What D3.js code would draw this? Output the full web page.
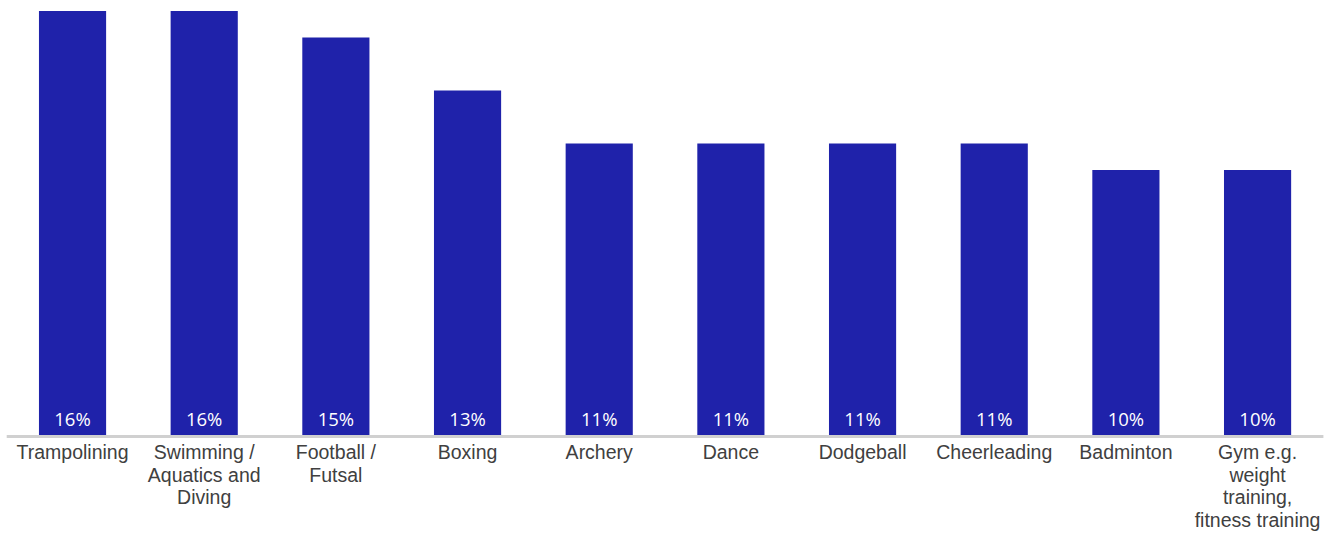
<!DOCTYPE html>
<html>
<head>
<meta charset="utf-8">
<script src="https://cdn.jsdelivr.net/npm/d3@7"></script>
<style>
  html, body { margin: 0; padding: 0; background: #ffffff; }
  svg { display: block; }
</style>
</head>
<body>
<svg id="chart" width="1332" height="535"></svg>
<script>
// Share of respondents by activity (line breaks mark where each category label wraps)
const categories = [
  "Trampolining",
  "Swimming /\nAquatics and\nDiving",
  "Football /\nFutsal",
  "Boxing",
  "Archery",
  "Dance",
  "Dodgeball",
  "Cheerleading",
  "Badminton",
  "Gym e.g.\nweight\ntraining,\nfitness training"
];
const values = [16, 16, 15, 13, 11, 11, 11, 11, 10, 10];
const valueLabels = ["16%", "16%", "15%", "13%", "11%", "11%", "11%", "11%", "10%", "10%"];

const data = categories.map((c, i) => ({ category: c, value: values[i], label: valueLabels[i] }));

const svg = d3.select("#chart");
const baseline = 435;

const x = d3.scaleBand()
  .domain(categories)
  .range([6.7, 1323.4])
  .paddingInner(0.49)
  .paddingOuter(0.245);

const y = d3.scaleLinear()
  .domain([0, 16])
  .range([baseline, 11]);

// Bars
svg.append("g")
  .selectAll("rect")
  .data(data)
  .join("rect")
  .attr("x", d => x(d.category))
  .attr("y", d => y(d.value))
  .attr("width", x.bandwidth())
  .attr("height", d => y(0) - y(d.value))
  .attr("fill", "#1f22aa");

// Value labels inside the bar base
svg.append("g")
  .selectAll("text")
  .data(data)
  .join("text")
  .attr("x", d => x(d.category) + x.bandwidth() / 2)
  .attr("y", baseline - 9)
  .attr("text-anchor", "middle")
  .attr("fill", "#ffffff")
  .style("font-family", "'Open Sans', sans-serif")
  .style("font-size", "18.5px")
  .text(d => d.label);

// Category axis
const xAxis = d3.axisBottom(x).tickSize(0).tickPadding(0);
const axisG = svg.append("g")
  .attr("transform", `translate(0,${baseline})`)
  .call(xAxis);

axisG.select(".domain")
  .attr("d", `M${x.range()[0]},1.5H${x.range()[1]}`)
  .attr("stroke", "#d0d0d0")
  .attr("stroke-width", 3);

axisG.selectAll(".tick text")
  .attr("fill", "#404040")
  .style("font-family", "'Liberation Sans', Arial, sans-serif")
  .style("font-size", "19.5px")
  .attr("y", 0)
  .attr("dy", 0)
  .each(function(d) {
    const t = d3.select(this).text(null);
    d.split("\n").forEach((line, i) => {
      t.append("tspan")
        .attr("x", 0)
        .attr("y", 24 + i * 22.6)
        .text(line);
    });
  });
</script>
</body>
</html>
